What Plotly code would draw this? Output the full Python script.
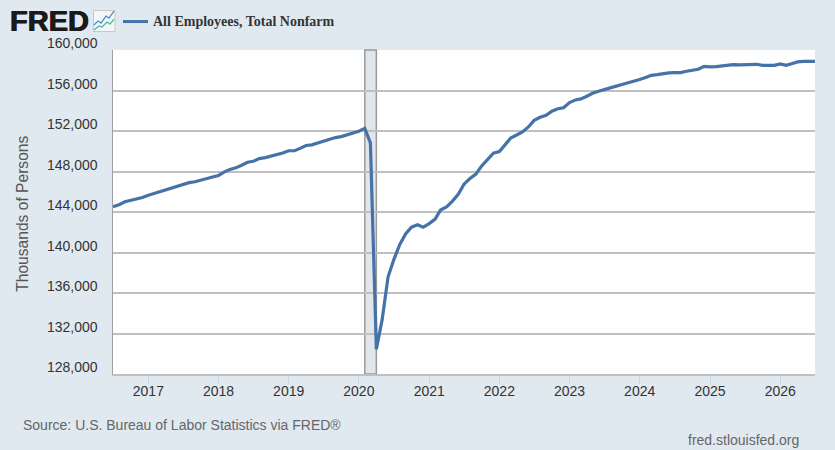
import plotly.graph_objects as go
import pandas as pd

SERIES_NAME = "All Employees, Total Nonfarm"
start_month = "2016-07-01"
payems = [
    144520, 144720, 145010, 145140, 145240, 145430,
    145660, 145850, 146020, 146180, 146370, 146600, 146770, 146900, 146990, 147120, 147320, 147450,
    147610, 147970, 148200, 148360, 148620, 148910, 149010, 149270, 149370, 149500, 149630, 149820,
    150050, 150050, 150280, 150570, 150630, 150830, 150960, 151150, 151350, 151450, 151640, 151770,
    151970, 152260, 150830, 130440, 133340, 137600, 139300, 140800, 141850, 142500, 142750, 142500,
    142850, 143300, 144200, 144500, 145050, 145750, 146750, 147300, 147750, 148550, 149200, 149800,
    149970, 150670, 151300, 151600, 151900, 152400, 153050, 153350, 153550, 153950, 154200, 154300,
    154800, 155070, 155170, 155430, 155730, 155930, 156070, 156270, 156430, 156600, 156750, 156880,
    157080, 157280, 157500, 157570, 157670, 157740, 157770, 157770, 157900, 157970, 158100, 158390,
    158330, 158360, 158430, 158520, 158560, 158530, 158560, 158530, 158590, 158490, 158490, 158490,
    158620, 158490, 158650, 158820, 158880, 158880, 158880,
]
dates = pd.date_range(start_month, periods=len(payems), freq="MS")

y_ticks = [128000, 132000, 136000, 140000, 144000, 148000, 152000, 156000, 160000]
x_tick_years = [2017, 2018, 2019, 2020, 2021, 2022, 2023, 2024, 2025, 2026]
recession = ["2020-02-01", "2020-04-01"]

W, H = 835, 450
L, R, T, B = 113, 815, 50, 374.5
px = lambda v: (v - L) / (R - L)
py = lambda v: (B - v) / (B - T)
BG = "#e1e9f0"
LINE = "#4572a7"

fig = go.Figure()
fig.add_trace(go.Scatter(x=dates, y=payems, mode="lines", name=SERIES_NAME,
                         line=dict(color=LINE, width=3.2), showlegend=False))

shapes = [dict(type="rect", xref="x", yref="paper", x0=recession[0], x1=recession[1], y0=0, y1=1,
               fillcolor="#e1e6ea", line=dict(color="#999999", width=1.5), layer="below")]

# legend key
shapes.append(dict(type="line", xref="paper", yref="paper", x0=px(123), x1=px(148), y0=py(21.5), y1=py(21.5),
                   line=dict(color=LINE, width=3), layer="above"))
# FRED icon
shapes.append(dict(type="rect", xref="paper", yref="paper", x0=px(93.5), x1=px(115), y0=py(31.5), y1=py(10.5),
                   fillcolor="#f4f7f9", line=dict(color="#c4c8cc", width=1), layer="above"))
def poly(pts, color):
    d = "M" + " L".join(f"{px(a):.5f},{py(b):.5f}" for a, b in pts)
    return dict(type="path", xref="paper", yref="paper", path=d, line=dict(color=color, width=1.3), layer="above")
shapes.append(poly([(94, 25), (98, 21), (101, 23), (106, 16), (109, 18), (114, 11)], "#4a8fd0"))
shapes.append(poly([(94, 30), (99, 26), (102, 27), (107, 22), (110, 24), (114, 19)], "#53b8a0"))

ann = []
for v in y_ticks:
    ann.append(dict(x=0, xref="paper", y=v, yref="y", xanchor="right", yanchor="middle", xshift=-13, yshift=7,
                    text=f"{v:,}", showarrow=False, font=dict(family="Liberation Sans", size=14, color="#333333")))
ann += [
    dict(x=px(21), y=py(425.5), xref="paper", yref="paper", xanchor="left", yanchor="middle", showarrow=False,
         text="Source: U.S. Bureau of Labor Statistics via FRED®", font=dict(family="Liberation Sans", size=14, color="#666666")),
    dict(x=px(801), y=py(440.5), xref="paper", yref="paper", xanchor="right", yanchor="middle", showarrow=False,
         text="fred.stlouisfed.org", font=dict(family="Liberation Sans", size=14, color="#666666")),
    dict(x=px(8), y=py(21), xref="paper", yref="paper", xanchor="left", yanchor="middle", showarrow=False,
         text="<b>FRED</b>", font=dict(family="Liberation Sans", size=29, color="#1a1a1a",
                                       shadow="0.6px 0 0 #1a1a1a, -0.4px 0 0 #1a1a1a")),
    dict(x=px(151), y=py(21), xref="paper", yref="paper", xanchor="left", yanchor="middle", showarrow=False,
         text=f"<b>{SERIES_NAME}</b>", font=dict(family="Liberation Serif", size=14, color="#333333")),
    dict(x=px(23), y=py(214), xref="paper", yref="paper", xanchor="center", yanchor="middle", textangle=-90,
         showarrow=False, text="Thousands of Persons", font=dict(family="Liberation Sans", size=15.6, color="#555555")),
]

fig.update_layout(
    width=W, height=H, autosize=False,
    margin=dict(l=L, r=W - R, t=T, b=H - B, pad=0),
    paper_bgcolor=BG, plot_bgcolor="#ffffff",
    shapes=shapes, annotations=ann,
    showlegend=False,
    xaxis=dict(type="date", range=["2016-07-01", "2026-07-01"],
               tickvals=[f"{y}-01-01" for y in x_tick_years], ticktext=[str(y) for y in x_tick_years],
               ticks="outside", ticklen=8, tickcolor="#ccd6eb", tickwidth=1, ticklabelstandoff=-5,
               tickfont=dict(family="Liberation Sans", size=14, color="#333333"),
               showgrid=False, zeroline=False, showline=True, linecolor="#c0c0c0", linewidth=2),
    yaxis=dict(range=[y_ticks[0], y_ticks[-1]], tickvals=y_ticks, showticklabels=False, ticks="",
               showgrid=True, gridcolor="#c0c0c0", gridwidth=2, zeroline=False,
               showline=True, linecolor="#a0a0a0", linewidth=1),
)
fig.write_html("out.html", config=dict(displayModeBar=False), post_script="document.body.style.margin='0';")
